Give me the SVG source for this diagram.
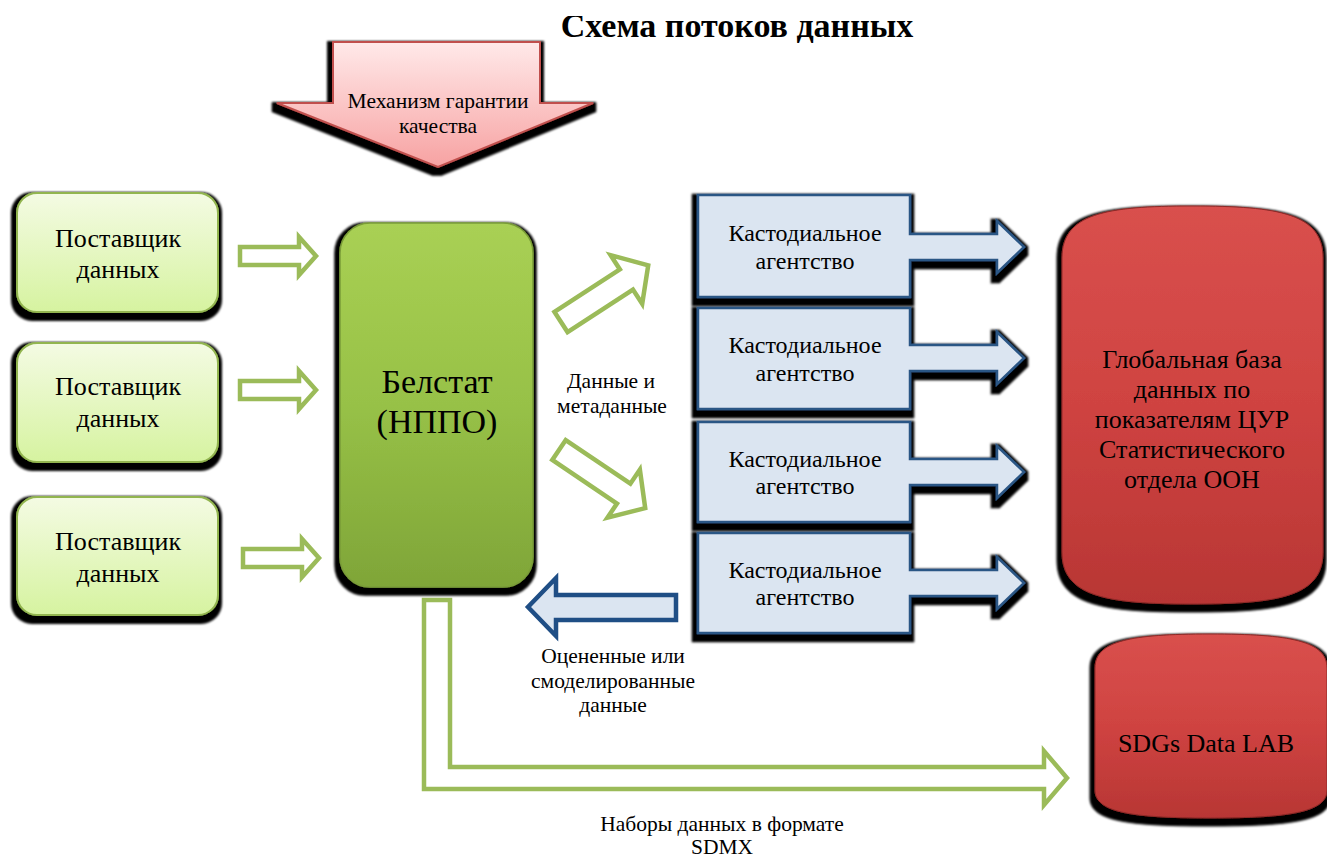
<svg xmlns="http://www.w3.org/2000/svg" width="1327" height="859" viewBox="0 0 1327 859">
<style>
text{font-family:"Liberation Serif","Times New Roman",serif;fill:#000;text-anchor:middle}
.t20{font-size:21.5px}
.sup{font-size:26px}
.cust{font-size:24px}
.glob{font-size:26px}
.hollow{fill:#fff;stroke:#9bbb59;stroke-width:4.5;stroke-linejoin:miter}
.custs{fill:#dbe5f1;stroke:#2c5685;stroke-width:2.5}
</style>
<defs>
<filter id="sh" x="-15%" y="-15%" width="130%" height="135%">
<feMorphology in="SourceAlpha" operator="dilate" radius="4"/>
<feOffset dx="-1" dy="4"/>
<feGaussianBlur stdDeviation="1.2" result="s"/>
<feMerge><feMergeNode in="s"/><feMergeNode in="SourceGraphic"/></feMerge>
</filter>
<linearGradient id="gSup" x1="0" y1="0" x2="0" y2="1">
<stop offset="0" stop-color="#f4fbe3"/><stop offset="1" stop-color="#d6f3a0"/>
</linearGradient>
<linearGradient id="gBel" x1="0" y1="0" x2="0" y2="1">
<stop offset="0" stop-color="#a9d054"/><stop offset="0.5" stop-color="#97c147"/><stop offset="1" stop-color="#7fa538"/>
</linearGradient>
<linearGradient id="gRed" x1="0" y1="0" x2="0" y2="1">
<stop offset="0" stop-color="#d9504d"/><stop offset="0.5" stop-color="#cf4341"/><stop offset="1" stop-color="#b83634"/>
</linearGradient>
<linearGradient id="gPink" x1="0" y1="0" x2="0" y2="1">
<stop offset="0" stop-color="#ffe9e9"/><stop offset="1" stop-color="#f7a2a2"/>
</linearGradient>
<path id="hArrow" d="M0,-9 H59 V-19 L76,0 L59,19 V9 H0 Z"/>
<path id="dArrow" d="M0,-12 H78 V-29 L104,0 L78,29 V12 H0 Z"/>
<clipPath id="titleClip"><rect x="0" y="16" width="1327" height="60"/></clipPath>
</defs>

<g id="title" clip-path="url(#titleClip)">
<text x="737" y="37" style="font-size:34px;font-weight:bold">Схема потоков данных</text>
</g>

<g id="quality">
<path d="M333,42 H540 V103 H593 L438,167 L277,103 H333 Z" fill="url(#gPink)" stroke="#c0504d" stroke-width="2" filter="url(#sh)"/>
<text class="t20" x="438" y="108">Механизм гарантии</text>
<text class="t20" x="438" y="133">качества</text>
</g>

<g id="supplier1">
<rect x="17" y="193" width="201" height="119" rx="20" fill="url(#gSup)" stroke="#92b550" stroke-width="2" filter="url(#sh)"/>
<text class="sup" x="118" y="247">Поставщик</text>
<text class="sup" x="118" y="278">данных</text>
</g>
<g id="supplier2">
<rect x="17" y="343" width="201" height="119" rx="20" fill="url(#gSup)" stroke="#92b550" stroke-width="2" filter="url(#sh)"/>
<text class="sup" x="118" y="395">Поставщик</text>
<text class="sup" x="118" y="427">данных</text>
</g>
<g id="supplier3">
<rect x="17" y="497" width="201" height="118" rx="20" fill="url(#gSup)" stroke="#92b550" stroke-width="2" filter="url(#sh)"/>
<text class="sup" x="118" y="550">Поставщик</text>
<text class="sup" x="118" y="582">данных</text>
</g>

<g id="belstat">
<rect x="340" y="223" width="193" height="364" rx="30" fill="url(#gBel)" stroke="#7a9c38" stroke-width="1.5" filter="url(#sh)"/>
<text x="437" y="393" style="font-size:34px">Белстат</text>
<text x="437" y="433" style="font-size:34px">(НППО)</text>
</g>

<g id="custodial1">
<path class="custs" d="M698,195 H910 V234 H997 V221 L1024,247 L997,273 V260 H910 V297 H698 Z" filter="url(#sh)"/>
<text class="cust" x="805" y="241">Кастодиальное</text>
<text class="cust" x="805" y="269">агентство</text>
</g>
<g id="custodial2">
<path class="custs" d="M698,308 H910 V345 H997 V332 L1024,358 L997,384 V371 H910 V409 H698 Z" filter="url(#sh)"/>
<text class="cust" x="805" y="353">Кастодиальное</text>
<text class="cust" x="805" y="381">агентство</text>
</g>
<g id="custodial3">
<path class="custs" d="M698,422 H910 V459 H997 V446 L1024,472 L997,498 V485 H910 V522 H698 Z" filter="url(#sh)"/>
<text class="cust" x="805" y="467">Кастодиальное</text>
<text class="cust" x="805" y="494">агентство</text>
</g>
<g id="custodial4">
<path class="custs" d="M698,533 H910 V570 H997 V557 L1024,583 L997,609 V596 H910 V633 H698 Z" filter="url(#sh)"/>
<text class="cust" x="805" y="578">Кастодиальное</text>
<text class="cust" x="805" y="605">агентство</text>
</g>

<g id="globaldb">
<path d="M1062,258 C1062,214 1105,206 1192,206 C1280,206 1323,214 1323,258 V552 C1323,596 1280,604 1192,604 C1105,604 1062,596 1062,552 Z" fill="url(#gRed)" stroke="#8e2a28" stroke-width="1" filter="url(#sh)"/>
<text class="glob" x="1192" y="368">Глобальная база</text>
<text class="glob" x="1192" y="398">данных по</text>
<text class="glob" x="1192" y="428">показателям ЦУР</text>
<text class="glob" x="1192" y="458">Статистического</text>
<text class="glob" x="1192" y="488">отдела ООН</text>
</g>

<g id="sdgslab">
<path d="M1095,668 C1095,641 1130,634 1210,634 C1290,634 1327,641 1327,668 V790 C1327,812 1290,818 1210,818 C1130,818 1095,812 1095,790 Z" fill="url(#gRed)" stroke="#8e2a28" stroke-width="1" filter="url(#sh)"/>
<text x="1206" y="752" style="font-size:26px">SDGs Data LAB</text>
</g>

<g id="connectors">
<use href="#hArrow" class="hollow" transform="translate(240,256)"/>
<use href="#hArrow" class="hollow" transform="translate(240,390)"/>
<use href="#hArrow" class="hollow" transform="translate(243,558)"/>
<use href="#dArrow" class="hollow" transform="translate(561,322) rotate(-33)"/>
<use href="#dArrow" class="hollow" transform="translate(559,450) rotate(34)"/>
<path d="M676,595 H556 V578 L528,607 L556,636 V620 H676 Z" fill="#dbe5f1" stroke="#1f4e85" stroke-width="4.5"/>
<path class="hollow" d="M424,600 H450 V767 H1044 V751 L1067,778 L1044,805 V789 H424 Z"/>
</g>

<g id="labels">
<text class="t20" x="611" y="388">Данные и</text>
<text class="t20" x="612" y="413">метаданные</text>
<text class="t20" x="613" y="663">Оцененные или</text>
<text class="t20" x="613" y="688">смоделированные</text>
<text class="t20" x="613" y="712">данные</text>
<text class="t20" x="722" y="831">Наборы данных в формате</text>
<text class="t20" x="722" y="854">SDMX</text>
</g>
</svg>
